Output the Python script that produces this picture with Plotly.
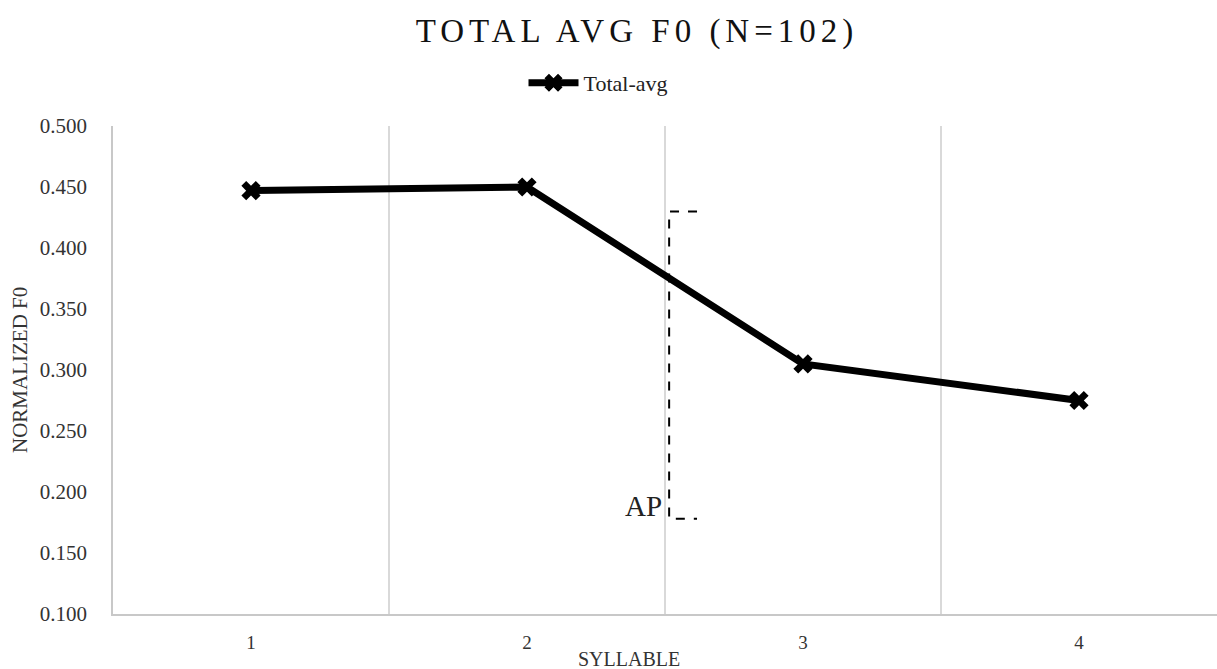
import plotly.graph_objects as go

syllables = ["1", "2", "3", "4"]
total_avg = [0.447, 0.450, 0.305, 0.275]
y_ticks = [0.100, 0.150, 0.200, 0.250, 0.300, 0.350, 0.400, 0.450, 0.500]
y_tick_labels = [f"{v:.3f}" for v in y_ticks]
ap_top, ap_bottom = 0.430, 0.178
ap_x, ap_x_end = 1.515, 1.616  # category index positions (boundary between 2 and 3 is 1.5)

serif = "Liberation Serif"

fig = go.Figure()
fig.add_trace(go.Scatter(
    x=syllables, y=total_avg, mode="lines+markers", name="Total-avg",
    line=dict(color="black", width=7),
    marker=dict(symbol="x", size=17, color="black"),
))

# AP bracket
fig.add_shape(type="path",
              path=f"M {ap_x_end},{ap_top} L {ap_x},{ap_top} L {ap_x},{ap_bottom} L {ap_x_end},{ap_bottom}",
              xref="x", yref="y", line=dict(color="black", width=2, dash="dash"))
fig.add_annotation(x=ap_x - 0.02, y=ap_bottom - 0.004, xref="x", yref="y", text="AP",
                   showarrow=False, xanchor="right", yanchor="bottom",
                   font=dict(family=serif, size=29, color="#222"))

fig.add_annotation(x=(629 - 113) / 1104, y=0, xref="paper", yref="paper", yshift=-45,
                   text="SYLLABLE", showarrow=False, xanchor="center", yanchor="middle",
                   font=dict(family=serif, size=20, color="#333"))
fig.add_annotation(x=0, y=0.5, xref="paper", yref="paper", xshift=-93,
                   text="NORMALIZED F0", showarrow=False, textangle=-90,
                   xanchor="center", yanchor="middle",
                   font=dict(family=serif, size=21, color="#333"))

fig.update_layout(
    width=1217, height=669,
    margin=dict(l=113, r=0, t=126, b=55),
    paper_bgcolor="white", plot_bgcolor="white",
    font=dict(family=serif),
    title=dict(text='<span style="letter-spacing:5px">TOTAL AVG F0 (N=102)</span>',
               x=(637) / 1217, xanchor="center", y=1 - 30 / 669, yanchor="middle",
               font=dict(family=serif, size=33, color="#111")),
    legend=dict(orientation="h", x=598 / 1217, xanchor="center", y=1 - 83 / 669, yanchor="middle",
                yref="container", xref="container",
                font=dict(family=serif, size=22, color="#222"), itemwidth=50),
    showlegend=True,
    xaxis=dict(type="category", tickson="boundaries", showgrid=True, gridcolor="#d9d9d9", gridwidth=1.5,
               range=[-0.5, 3.5], showline=True, linecolor="#c8c8c8", linewidth=2,
               ticks="", ticklabelstandoff=10,
               tickfont=dict(family=serif, size=19, color="#333"), zeroline=False),
    yaxis=dict(range=[0.1, 0.5], tickvals=y_ticks, ticktext=y_tick_labels, showgrid=False,
               showline=True, linecolor="#c8c8c8", linewidth=1.5, ticks="", ticklabelstandoff=20,
               tickfont=dict(family=serif, size=21, color="#333"), zeroline=False),
)

fig.write_html("out.html")
